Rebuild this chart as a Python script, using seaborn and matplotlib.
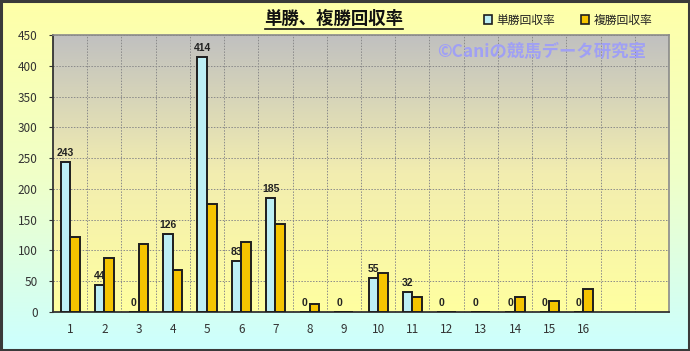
import numpy as np
import pandas as pd
import matplotlib
matplotlib.use("Agg")
import matplotlib.pyplot as plt
import seaborn as sns
from matplotlib.colors import LinearSegmentedColormap
from matplotlib.patches import Patch, Rectangle
from matplotlib.lines import Line2D

# ---- data ----
categories = [str(i) for i in range(1, 17)]
series_names = ["単勝回収率", "複勝回収率"]
win_return = [243, 44, 0, 126, 414, 83, 185, 0, 0, 55, 32, 0, 0, 0, 0, 0]
place_return = [122, 88, 110, 69, 175, 114, 143, 13, 0, 64, 25, 0, 0, 25, 18, 37]
y_ticks = [0, 50, 100, 150, 200, 250, 300, 350, 400, 450]
title_text = "単勝、複勝回収率"
watermark_text = "©Caniの競馬データ研究室"

df = pd.DataFrame({
    "category": categories * 2,
    "series": [series_names[0]] * len(categories) + [series_names[1]] * len(categories),
    "value": win_return + place_return,
})

plt.rcParams["font.family"] = ["Noto Sans CJK JP", "DejaVu Sans"]

W, H = 690, 351
fig = plt.figure(figsize=(W / 100, H / 100), dpi=100)

# figure background gradient (yellow -> light cyan)
bg = fig.add_axes([0, 0, 1, 1], zorder=-10)
bg_cmap = LinearSegmentedColormap.from_list("bg", ["#FFFFA8", "#F0FFC8", "#CCFFFF"])
bg.imshow(np.linspace(0, 1, 256).reshape(-1, 1), cmap=bg_cmap, aspect="auto",
          extent=[0, 1, 0, 1], origin="upper")
bg.set_axis_off()
fig.patches.append(Rectangle((0.0015, 0.003), 0.997, 0.994, transform=fig.transFigure,
                             fill=False, edgecolor="#3A3A3A", lw=2.2, zorder=20))

ax = fig.add_axes([53 / W, 1 - 312 / H, 616 / W, 277 / H])
ax.patch.set_alpha(0)

cyan = "#BDEFF5"
gold = "#F5C400"
sns.barplot(data=df, x="category", y="value", hue="series", order=categories,
            hue_order=series_names, palette=[cyan, gold], saturation=1, width=0.56,
            edgecolor="#1E1E1E", linewidth=1.4, errorbar=None, legend=False,
            ax=ax, zorder=3)

ax.bar_label(ax.containers[0], labels=[str(v) for v in win_return], padding=3,
             fontsize=7.5, fontweight="bold", color="#222222", zorder=5,
             family=["Liberation Sans", "DejaVu Sans"])

# plot area gradient (gray -> light yellow)
pa_cmap = LinearSegmentedColormap.from_list("pa", ["#C0C0C0", "#F2EDB0", "#FFFFA0"])
ax.imshow(np.linspace(0, 1, 256).reshape(-1, 1), cmap=pa_cmap, aspect="auto",
          extent=[-0.5, 17.5, 0, 450], origin="upper", zorder=0)

ax.set_xlim(-0.5, 17.5)
ax.set_ylim(0, 450)
ax.set_yticks(y_ticks)
ax.set_xticks(np.arange(0.5, 17.5, 1), minor=True)
ax.grid(which="minor", axis="x", ls=(0, (1.5, 1.5)), color="#8A8A8A", lw=0.7, zorder=1)
ax.grid(which="major", axis="y", ls=(0, (1.5, 1.5)), color="#8A8A8A", lw=0.7, zorder=1)
ax.grid(which="major", axis="x", visible=False)
ax.set_axisbelow(True)
ax.set_xlabel("")
ax.set_ylabel("")
ax.tick_params(axis="x", which="both", length=0, pad=8, labelsize=8.5, colors="#333333")
ax.tick_params(axis="y", length=3, width=0.8, pad=8, labelsize=8.5, colors="#333333")
for s in ["left", "bottom"]:
    ax.spines[s].set_color("#333333")
    ax.spines[s].set_linewidth(1.3)
for s in ["top", "right"]:
    ax.spines[s].set_color("#8A8A8A")
    ax.spines[s].set_linewidth(1.2)

# title with underline
t = fig.text(334 / W, 1 - 19 / H, title_text, ha="center", va="center",
             fontsize=12.5, fontweight="bold", color="#111111")
fig.canvas.draw()
bb = t.get_window_extent()
fig.add_artist(Line2D([bb.x0 / W, bb.x1 / W], [(bb.y0 - 1) / H, (bb.y0 - 1) / H],
                      transform=fig.transFigure, color="#111111", lw=1.2))

# legend
handles = [Patch(facecolor=cyan, edgecolor="#1E1E1E", lw=1.2),
           Patch(facecolor=gold, edgecolor="#1E1E1E", lw=1.2)]
fig.legend(handles, series_names, loc="center", bbox_to_anchor=(568 / W, 1 - 20 / H),
           ncol=2, frameon=False, fontsize=8.5, handlelength=0.7, handleheight=0.7,
           columnspacing=2.2, handletextpad=0.35, labelcolor="#222222")

# watermark
fig.text(542 / W, 1 - 52 / H, watermark_text, ha="center", va="center",
         fontsize=12.5, fontweight="bold", color="#A0A0F4", zorder=6)

fig.savefig("out.png", dpi=100)
